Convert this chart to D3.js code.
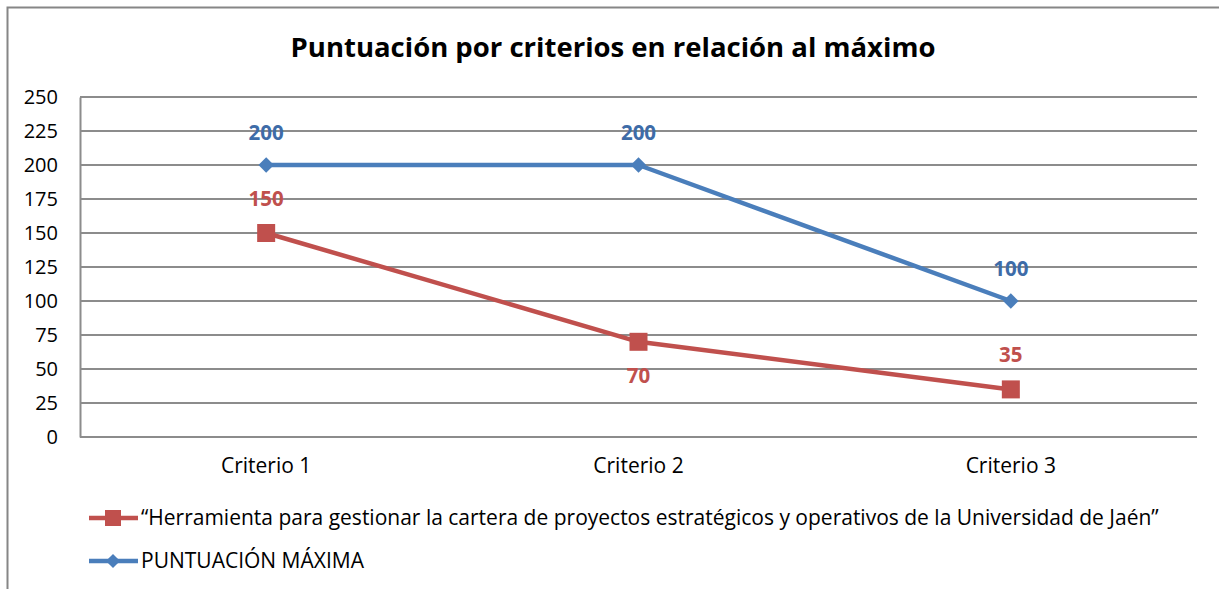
<!DOCTYPE html>
<html>
<head>
<meta charset="utf-8">
<script src="https://cdn.jsdelivr.net/npm/d3@7"></script>
<style>
  body { margin: 0; background: #fff; }
  text { font-family: "Open Sans", sans-serif; }
</style>
</head>
<body>
<div id="chart"></div>
<script>
// Datos del gráfico
const categories = ['Criterio 1', 'Criterio 2', 'Criterio 3'];
const herramienta = [150, 70, 35];
const maximo = [200, 200, 100];
const yTicks = [0, 25, 50, 75, 100, 125, 150, 175, 200, 225, 250];
const chartTitle = 'Puntuación por criterios en relación al máximo';
const seriesNames = [
    '\u201CHerramienta para gestionar la cartera de proyectos estratégicos y operativos de la Universidad de Jaén\u201D',
    'PUNTUACIÓN MÁXIMA'
];
// posición de la etiqueta de cada punto (arriba/abajo)
const herramientaLabelPos = ['above', 'below', 'above'];

const W = 1219, H = 589;
const margin = { top: 97, right: 22, bottom: 152, left: 80 };
const width = W - margin.left - margin.right;
const height = H - margin.top - margin.bottom;

const red = '#c0504d';
const blue = '#4a7ebb';
const blueText = '#3e6ca8';

const svg = d3.select('#chart').append('svg')
    .attr('width', W)
    .attr('height', H);

// Borde exterior
svg.append('path')
    .attr('d', `M7.5,${H} V7.5 H${W}`)
    .attr('fill', 'none')
    .attr('stroke', '#868686')
    .attr('stroke-width', 2);

svg.append('text')
    .attr('x', 613)
    .attr('y', 57)
    .attr('text-anchor', 'middle')
    .attr('font-size', 27.5)
    .attr('font-weight', 'bold')
    .attr('fill', '#000')
    .text(chartTitle);

const g = svg.append('g')
    .attr('transform', `translate(${margin.left},${margin.top})`);

const x = d3.scaleBand()
    .domain(categories)
    .range([0, width]);

const y = d3.scaleLinear()
    .domain([0, 250])
    .range([height, 0]);

// Líneas de cuadrícula
g.append('g')
    .selectAll('line')
    .data(yTicks)
    .join('line')
    .attr('x1', 0)
    .attr('x2', width)
    .attr('y1', d => y(d))
    .attr('y2', d => y(d))
    .attr('stroke', '#8c8c8c')
    .attr('stroke-width', 2);

// Eje Y
const yAxis = g.append('g')
    .call(d3.axisLeft(y).tickValues(yTicks).tickSize(0).tickPadding(22));
yAxis.select('.domain')
    .attr('stroke', '#8c8c8c')
    .attr('stroke-width', 2);
yAxis.selectAll('text')
    .attr('font-size', 20)
    .attr('fill', '#000')
    .style('font-family', '"Open Sans", sans-serif');

// Eje X
const xAxis = g.append('g')
    .attr('transform', `translate(0,${height})`)
    .call(d3.axisBottom(x).tickSize(0).tickPadding(21));
xAxis.select('.domain').remove();
xAxis.selectAll('text')
    .attr('font-size', 21)
    .attr('fill', '#000')
    .style('font-family', '"Open Sans", sans-serif');

const cx = d => x(d) + x.bandwidth() / 2;

const line = d3.line()
    .x((d, i) => cx(categories[i]))
    .y(d => y(d));

// Serie: puntuación máxima
g.append('path')
    .datum(maximo)
    .attr('fill', 'none')
    .attr('stroke', blue)
    .attr('stroke-width', 4.5)
    .attr('stroke-linejoin', 'round')
    .attr('d', line);

g.selectAll('.diamond')
    .data(maximo)
    .join('path')
    .attr('class', 'diamond')
    .attr('transform', (d, i) => `translate(${cx(categories[i])},${y(d)}) rotate(45)`)
    .attr('d', d3.symbol(d3.symbolSquare, 120)())
    .attr('fill', blue);

// Serie: herramienta
g.append('path')
    .datum(herramienta)
    .attr('fill', 'none')
    .attr('stroke', red)
    .attr('stroke-width', 4.5)
    .attr('stroke-linejoin', 'round')
    .attr('d', line);

g.selectAll('.square')
    .data(herramienta)
    .join('rect')
    .attr('class', 'square')
    .attr('x', (d, i) => cx(categories[i]) - 9)
    .attr('y', d => y(d) - 9)
    .attr('width', 18)
    .attr('height', 18)
    .attr('fill', red);

// Etiquetas de datos
g.selectAll('.lbl-max')
    .data(maximo)
    .join('text')
    .attr('class', 'lbl-max')
    .attr('x', (d, i) => cx(categories[i]))
    .attr('y', d => y(d) - 25)
    .attr('text-anchor', 'middle')
    .attr('font-size', 20.5)
    .attr('font-weight', 'bold')
    .attr('fill', blueText)
    .text(d => d);

g.selectAll('.lbl-her')
    .data(herramienta)
    .join('text')
    .attr('class', 'lbl-her')
    .attr('x', (d, i) => cx(categories[i]))
    .attr('y', (d, i) => herramientaLabelPos[i] === 'above' ? y(d) - 27 : y(d) + 41)
    .attr('text-anchor', 'middle')
    .attr('font-size', 20.5)
    .attr('font-weight', 'bold')
    .attr('fill', red)
    .text(d => d);

// Leyenda
const legend = svg.append('g');
const legendRows = [
    { name: seriesNames[0], color: red, marker: 'square', y: 518 },
    { name: seriesNames[1], color: blue, marker: 'diamond', y: 561 }
];

legendRows.forEach(r => {
    const row = legend.append('g').attr('transform', `translate(0,${r.y})`);
    row.append('line')
        .attr('x1', 89).attr('x2', 138)
        .attr('stroke', r.color)
        .attr('stroke-width', 4.5);
    if (r.marker === 'square') {
        row.append('rect')
            .attr('x', 105).attr('y', -8)
            .attr('width', 16).attr('height', 16)
            .attr('fill', r.color);
    } else {
        row.append('path')
            .attr('transform', 'translate(113,0) rotate(45)')
            .attr('d', d3.symbol(d3.symbolSquare, 100)())
            .attr('fill', r.color);
    }
    row.append('text')
        .attr('x', 141)
        .attr('dy', '0.35em')
        .attr('font-size', 21)
        .attr('fill', '#000')
        .text(r.name);
});
</script>
</body>
</html>
